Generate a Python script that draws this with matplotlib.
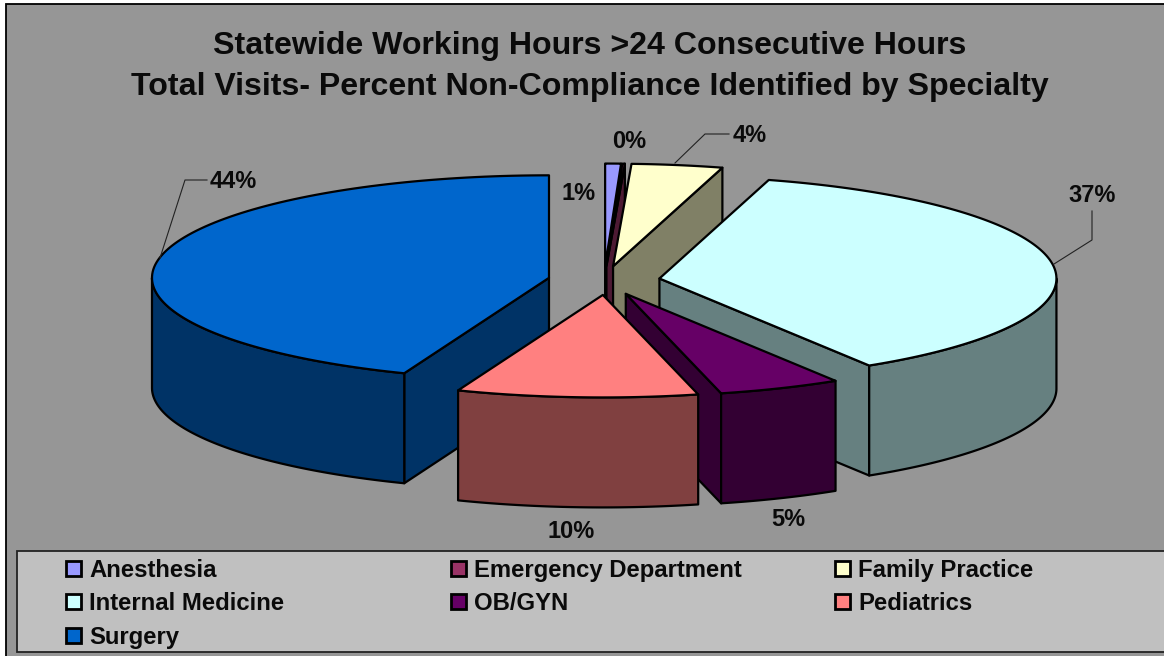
import numpy as np
import matplotlib
matplotlib.use('Agg')
import matplotlib.pyplot as plt
from matplotlib.patches import Polygon, Rectangle

plt.rcParams['font.family'] = ['Liberation Sans', 'DejaVu Sans']

categories = ['Anesthesia', 'Emergency Department', 'Family Practice', 'Internal Medicine',
              'OB/GYN', 'Pediatrics', 'Surgery']
# percent shares, the printed labels are rounded
values = [0.64, 0.1, 3.7, 36.7, 5.0, 9.8, 44.06]
value_labels = ['1%', '0%', '4%', '37%', '5%', '10%', '44%']
colors = ['#9999FF', '#993366', '#FFFFCC', '#CCFFFF', '#660066', '#FF8080', '#0066CC']
label_pos = [(579, 194), (629, 142), (750, 136), (1092, 196), (788, 520), (571, 531), (233, 182)]
leaders = [None, None,
           [(675, 163), (705, 134), (729, 134)],
           [(1054, 264), (1092, 240), (1092, 211)],
           None, None,
           [(160, 258), (185, 180), (207, 180)]]
# back to front
draw_order = [0, 1, 2, 3, 6, 4, 5]
# small sideways offset of a slice, pediatrics sits a bit right of where the explosion puts it
nudge = [0, 0, 0, 0, 0, 0, 0]
nudge[5] = 2.5

cx, cy = 604, 280.5
rx, ry = 397, 102.5
depth = 110
explode = 0.141
edge = 1.6

fig = plt.figure(figsize=(11.64, 6.56), dpi=100, facecolor='white')
ax = fig.add_axes([0, 0, 1, 1])
ax.set_xlim(0, 1164)
ax.set_ylim(656, 0)
ax.axis('off')

ax.add_patch(Rectangle((6, 4), 1170, 665, facecolor='#969696', edgecolor='black', linewidth=1.3))

ax.text(590, 46, 'Statewide Working Hours >24 Consecutive Hours', fontsize=23.1, fontweight='bold',
        ha='center', va='center', color='#0a0a0a')
ax.text(590, 87, 'Total Visits- Percent Non-Compliance Identified by Specialty', fontsize=23.1,
        fontweight='bold', ha='center', va='center', color='#0a0a0a')


def shade(c):
    r, g, b = matplotlib.colors.to_rgb(c)
    return (r * 0.5, g * 0.5, b * 0.5)


def arc(x0, y0, a, b):
    t = np.radians(np.linspace(a, b, 120))
    return np.column_stack([x0 + rx * np.sin(t), y0 - ry * np.cos(t)])


def draw_slice(start, stop, color, shift):
    mid = np.radians((start + stop) / 2)
    x0 = cx + explode * rx * np.sin(mid) + shift
    y0 = cy - explode * ry * np.cos(mid)
    dark = shade(color)
    down = np.array([0, depth])
    apex = np.array([x0, y0])
    # cut faces that look at the viewer
    if 0 < stop < 180:
        p = arc(x0, y0, stop, stop)[0]
        ax.add_patch(Polygon([apex, p, p + down, apex + down], facecolor=dark,
                             edgecolor='black', linewidth=edge, joinstyle='round'))
    if 180 < start < 360:
        p = arc(x0, y0, start, start)[0]
        ax.add_patch(Polygon([apex, p, p + down, apex + down], facecolor=dark,
                             edgecolor='black', linewidth=edge, joinstyle='round'))
    # outer rim, only the front half of the ellipse shows
    a, b = max(start, 90), min(stop, 270)
    if a < b:
        rim = arc(x0, y0, a, b)
        ax.add_patch(Polygon(np.vstack([rim, rim[::-1] + down]), facecolor=dark,
                             edgecolor='black', linewidth=edge, joinstyle='round'))
    top = np.vstack([apex, arc(x0, y0, start, stop)])
    ax.add_patch(Polygon(top, facecolor=color, edgecolor='black', linewidth=edge, joinstyle='round'))


edges = np.cumsum([0] + values) / sum(values) * 360
for i in draw_order:
    draw_slice(edges[i], edges[i + 1], colors[i], nudge[i])

for i, lab in enumerate(value_labels):
    ax.text(label_pos[i][0], label_pos[i][1], lab, fontsize=17, fontweight='bold',
            ha='center', va='center', color='#0a0a0a')
    if leaders[i]:
        xs, ys = zip(*leaders[i])
        ax.plot(xs, ys, color='#222222', linewidth=0.8)

# legend box, filled row by row like the original
ax.add_patch(Rectangle((17, 551), 1170, 101, facecolor='#C0C0C0', edgecolor='#222222', linewidth=1.3))
col_x = [66, 451, 835]
row_y = [568, 601.5, 635]
for i, name in enumerate(categories):
    x = col_x[i % 3]
    y = row_y[i // 3]
    ax.add_patch(Rectangle((x, y - 7.5), 15, 15, facecolor=colors[i], edgecolor='black', linewidth=2))
    ax.text(x + 23, y + 9, name, fontsize=17.2, fontweight='bold', ha='left', va='baseline', color='#0a0a0a')

fig.savefig('out.png', dpi=100, facecolor='white')
